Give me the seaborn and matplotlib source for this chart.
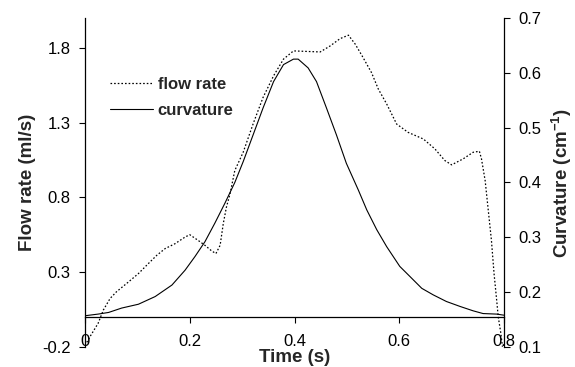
import matplotlib
matplotlib.use("Agg")
import matplotlib.pyplot as plt
import seaborn as sns
import pandas as pd

# ---- data ----
flow_t = [0.0, 0.0095, 0.025, 0.035, 0.048, 0.06, 0.083, 0.102, 0.121, 0.137,
          0.153, 0.172, 0.191, 0.2, 0.216, 0.229, 0.242, 0.25, 0.258, 0.264,
          0.27, 0.277, 0.286, 0.302, 0.322, 0.34, 0.36, 0.379, 0.398, 0.449,
          0.468, 0.487, 0.503, 0.516, 0.531, 0.547, 0.56, 0.576, 0.595, 0.617,
          0.646, 0.668, 0.687, 0.7, 0.722, 0.741, 0.753, 0.757, 0.764, 0.77,
          0.776, 0.781, 0.786, 0.789, 0.794, 0.797]
flow_v = [-0.19, -0.131, -0.042, 0.047, 0.125, 0.169, 0.235, 0.291, 0.358, 0.413,
          0.458, 0.491, 0.535, 0.551, 0.513, 0.48, 0.442, 0.425, 0.48, 0.625,
          0.735, 0.825, 0.98, 1.102, 1.302, 1.469, 1.613, 1.725, 1.78, 1.773,
          1.813, 1.862, 1.885, 1.825, 1.735, 1.635, 1.525, 1.425, 1.291, 1.235,
          1.191, 1.125, 1.047, 1.018, 1.058, 1.102, 1.109, 1.058, 0.913, 0.713,
          0.513, 0.291, 0.113, 0.002, -0.109, -0.198]

curv_t = [0.0, 0.025, 0.045, 0.07, 0.102, 0.134, 0.166, 0.191, 0.21, 0.229,
          0.248, 0.267, 0.286, 0.302, 0.328, 0.34, 0.36, 0.379, 0.398, 0.407,
          0.426, 0.442, 0.461, 0.48, 0.499, 0.522, 0.538, 0.557, 0.576, 0.601,
          0.621, 0.643, 0.665, 0.69, 0.716, 0.741, 0.76, 0.786, 0.8]
curv_v = [0.157, 0.160, 0.163, 0.171, 0.178, 0.192, 0.213, 0.24, 0.265, 0.292,
          0.326, 0.362, 0.400, 0.438, 0.505, 0.536, 0.584, 0.615, 0.625, 0.625,
          0.609, 0.584, 0.536, 0.487, 0.435, 0.386, 0.35, 0.314, 0.283, 0.247,
          0.228, 0.207, 0.195, 0.183, 0.174, 0.166, 0.161, 0.160, 0.158]

x_ticks = [0, 0.2, 0.4, 0.6, 0.8]
x_ticklabels = ["0", "0.2", "0.4", "0.6", "0.8"]
left_ticks = [-0.2, 0.3, 0.8, 1.3, 1.8]
left_ticklabels = ["-0.2", "0.3", "0.8", "1.3", "1.8"]
right_ticks = [0.1, 0.2, 0.3, 0.4, 0.5, 0.6, 0.7]
right_ticklabels = ["0.1", "0.2", "0.3", "0.4", "0.5", "0.6", "0.7"]

flow_df = pd.DataFrame({"t": flow_t, "v": flow_v})
curv_df = pd.DataFrame({"t": curv_t, "v": curv_v})

sns.set_style("white")
plt.rcParams["font.family"] = ["Liberation Sans", "DejaVu Sans"]
plt.rcParams["mathtext.fontset"] = "custom"
plt.rcParams["mathtext.rm"] = "Liberation Sans"
plt.rcParams["mathtext.it"] = "Liberation Sans"
plt.rcParams["mathtext.bf"] = "Liberation Sans:bold"

fig = plt.figure(figsize=(5.75, 3.67), dpi=100)
ax = fig.add_axes([85 / 575, 1 - 347 / 367, 419 / 575, 329 / 367])
ax2 = ax.twinx()

sns.lineplot(data=flow_df, x="t", y="v", ax=ax, color="black", linewidth=0.9,
             linestyle=(0, (1.3, 1.6)), sort=False, label="flow rate", legend=False)
sns.lineplot(data=curv_df, x="t", y="v", ax=ax2, color="black", linewidth=0.8,
             sort=False, label="curvature", legend=False)

ax.set_xlim(0, 0.8)
ax.set_ylim(-0.2, 2.0)
ax2.set_ylim(0.1, 0.7)

for a in (ax, ax2):
    a.spines["top"].set_visible(False)
    for s in a.spines.values():
        s.set_color("black")
        s.set_linewidth(0.9)
ax.spines["right"].set_visible(False)
ax.spines["bottom"].set_position(("data", 0))
ax2.spines["bottom"].set_visible(False)
ax2.spines["left"].set_visible(False)
ax2.spines["right"].set_visible(True)

ax.set_xticks(x_ticks)
ax.set_xticklabels(x_ticklabels)
ax.set_yticks(left_ticks)
ax.set_yticklabels(left_ticklabels)
ax2.set_yticks(right_ticks)
ax2.set_yticklabels(right_ticklabels)

ax.tick_params(axis="x", direction="out", length=4.5, width=0.8, pad=8,
               labelsize=12, bottom=True, colors="black")
ax.tick_params(axis="y", direction="out", length=4.5, width=0.8, pad=6,
               labelsize=12, left=True, colors="black")
ax2.tick_params(axis="y", direction="out", length=4.5, width=0.8, pad=6,
                labelsize=12, right=True, colors="black")

ax.set_xlabel("Time (s)", fontsize=13.5, fontweight="bold", labelpad=0)
ax.set_ylabel("Flow rate (ml/s)", fontsize=13.5, fontweight="bold", labelpad=4)
ax2.set_ylabel(r"Curvature (cm$^{\mathbf{-1}}$)", fontsize=13.5,
               fontweight="bold", labelpad=6)

h1, l1 = ax.get_legend_handles_labels()
h2, l2 = ax2.get_legend_handles_labels()
leg = ax.legend(h1 + h2, l1 + l2, loc="center left",
                bbox_to_anchor=(25 / 419, (347 - 97.5) / 329),
                frameon=False, borderpad=0, borderaxespad=0,
                handlelength=2.6, handletextpad=0.25, labelspacing=0.65,
                prop={"weight": "bold", "size": 12})

fig.savefig("out.png", dpi=100)
